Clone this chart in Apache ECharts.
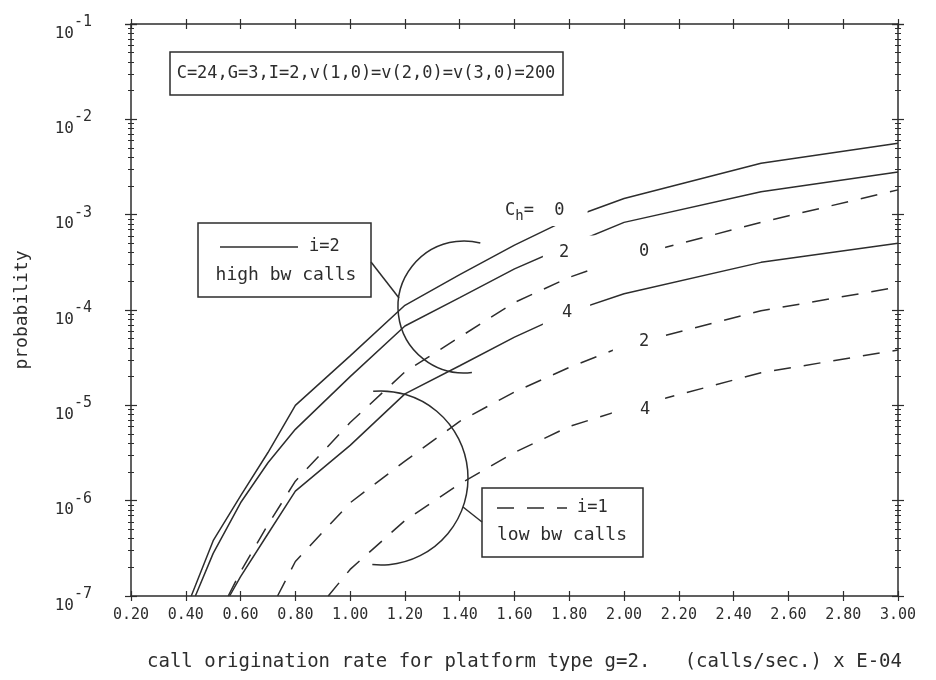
<!DOCTYPE html>
<html>
<head>
<meta charset="utf-8">
<script src="https://cdn.jsdelivr.net/npm/echarts@6/dist/echarts.min.js"></script>
<style>
html, body { margin: 0; background: #fff; }
#main { width: 936px; height: 680px; }
</style>
</head>
<body>
<div id="main"></div>
<script>
var ink = '#2d2d2d';
var mono = 'DejaVu Sans Mono';

// call origination rate (calls/sec x E-04) and blocking probability
// i=2 (high bw calls), solid
var xHigh0 = [0.42, 0.5, 0.6, 0.7, 0.8, 1.0, 1.2, 1.4, 1.6, 1.8, 2.0, 2.5, 3.0];
var pHigh0 = [1e-7, 3.8e-7, 1.12e-6, 3.2e-6, 1.0e-5, 3.3e-5, 1.12e-4, 2.35e-4, 4.8e-4, 9.1e-4, 1.48e-3, 3.47e-3, 5.6e-3];
var xHigh2 = [0.435, 0.5, 0.6, 0.7, 0.8, 1.0, 1.2, 1.4, 1.6, 1.8, 2.0, 2.5, 3.0];
var pHigh2 = [1e-7, 2.8e-7, 9.5e-7, 2.5e-6, 5.6e-6, 2.0e-5, 6.8e-5, 1.35e-4, 2.7e-4, 4.8e-4, 8.3e-4, 1.74e-3, 2.8e-3];
var xHigh4 = [0.56, 0.6, 0.7, 0.8, 1.0, 1.2, 1.4, 1.6, 1.8, 2.0, 2.5, 3.0];
var pHigh4 = [1e-7, 1.6e-7, 4.5e-7, 1.26e-6, 3.8e-6, 1.32e-5, 2.6e-5, 5.2e-5, 9.5e-5, 1.48e-4, 3.16e-4, 5.0e-4];
// i=1 (low bw calls), dashed
var xLow0 = [0.555, 0.6, 0.7, 0.8, 1.0, 1.2, 1.4, 1.6, 1.8, 2.0, 2.5, 3.0];
var pLow0 = [1e-7, 1.8e-7, 5.6e-7, 1.6e-6, 6.6e-6, 2.24e-5, 5.2e-5, 1.2e-4, 2.2e-4, 3.5e-4, 8.3e-4, 1.82e-3];
var xLow2 = [0.735, 0.8, 1.0, 1.2, 1.4, 1.6, 1.8, 2.0, 2.5, 3.0];
var pLow2 = [1e-7, 2.3e-7, 9.5e-7, 2.6e-6, 6.8e-6, 1.38e-5, 2.5e-5, 4.2e-5, 9.8e-5, 1.74e-4];
var xLow4 = [0.92, 1.0, 1.2, 1.4, 1.6, 1.8, 2.0, 2.5, 3.0];
var pLow4 = [1e-7, 1.9e-7, 6.2e-7, 1.5e-6, 3.2e-6, 6.0e-6, 9.1e-6, 2.2e-5, 3.8e-5];

function pairs(xs, ps) {
    return xs.map(function (x, i) { return [x, ps[i]]; });
}

function curve(xs, ps, dashed) {
    return {
        type: 'line',
        data: pairs(xs, ps),
        symbol: 'none',
        smooth: false,
        clip: true,
        silent: true,
        lineStyle: { color: ink, width: 1.5, type: dashed ? [17, 13] : 'solid' }
    };
}

function xAx(pos, inside, main) {
    return {
        type: 'value', min: 0.2, max: 3.0, interval: 0.2, position: pos,
        axisLine: { show: main, onZero: false, lineStyle: { color: ink, width: 1.5 } },
        axisTick: { show: true, inside: inside, length: 5, lineStyle: { color: ink, width: 1.2 } },
        axisLabel: main && pos === 'bottom' ? {
            show: true, margin: 12, color: ink, fontFamily: mono, fontSize: 15,
            formatter: function (v) { return v.toFixed(2); }
        } : { show: false },
        splitLine: { show: false },
        name: main && pos === 'bottom' ? 'call origination rate for platform type g=2.   (calls/sec.) x E-04' : '',
        nameLocation: 'middle', nameGap: 57,
        nameTextStyle: { color: ink, fontFamily: mono, fontSize: 19, padding: [0, 0, 0, 20] }
    };
}

function yAx(pos, inside, main) {
    return {
        type: 'log', logBase: 10, min: 1e-7, max: 1e-1, splitNumber: 6, position: pos,
        axisLine: { show: main, onZero: false, lineStyle: { color: ink, width: 1.5 } },
        axisTick: { show: true, inside: inside, length: 6, lineStyle: { color: ink, width: 1.2 } },
        minorTick: { show: true, splitNumber: 9, length: 3, lineStyle: { color: ink, width: 1 } },
        axisLabel: main && pos === 'left' ? {
            show: true, margin: 39, color: ink, fontFamily: mono, padding: [19, 0, 0, 0],
            formatter: function (v) {
                return '{b|10}{e|' + Math.round(Math.log10(v)) + '}';
            },
            rich: {
                b: { fontFamily: mono, fontSize: 16, lineHeight: 16, color: ink, verticalAlign: 'bottom' },
                e: { fontFamily: mono, fontSize: 15, lineHeight: 14, color: ink, verticalAlign: 'bottom', padding: [0, 0, 12, 0] }
            }
        } : { show: false },
        splitLine: { show: false },
        minorSplitLine: { show: false },
        name: main && pos === 'left' ? 'probability' : '',
        nameLocation: 'middle', nameGap: 100, nameRotate: 90,
        nameTextStyle: { color: ink, fontFamily: mono, fontSize: 18 }
    };
}

// curve label at (cx, cy); the white padding leaves the gap the plotter left in the line
function label(cx, cy, text, pad) {
    return {
        type: 'text', z: 60,
        x: cx - (pad[3] - pad[1]) / 2,
        y: cy,
        style: {
            text: text, fill: ink, font: '17px "' + mono + '"',
            align: 'center', verticalAlign: 'middle',
            backgroundColor: '#fff', padding: pad
        }
    };
}

var box = { stroke: ink, lineWidth: 1.5, fill: '#fff' };
var thin = { stroke: ink, lineWidth: 1.5, fill: null };

var option = {
    backgroundColor: '#fff',
    animation: false,
    grid: { left: 131, right: 38, top: 24, bottom: 84 },
    xAxis: [xAx('bottom', false, true), xAx('bottom', true, false), xAx('top', false, true), xAx('top', true, false)],
    yAxis: [yAx('left', false, true), yAx('left', true, false), yAx('right', false, true), yAx('right', true, false)],
    series: [
        curve(xHigh0, pHigh0, false),
        curve(xHigh2, pHigh2, false),
        curve(xHigh4, pHigh4, false),
        curve(xLow0, pLow0, true),
        curve(xLow2, pLow2, true),
        curve(xLow4, pLow4, true)
    ],
    graphic: [
        // parameter box
        { type: 'rect', z: 50, shape: { x: 170, y: 52, width: 393, height: 43 }, style: box },
        { type: 'text', z: 51, x: 366, y: 74, style: { text: 'C=24,G=3,I=2,v(1,0)=v(2,0)=v(3,0)=200', fill: ink, font: '17px "' + mono + '"', align: 'center', verticalAlign: 'middle' } },
        // high bw legend
        { type: 'rect', z: 50, shape: { x: 198, y: 223, width: 173, height: 74 }, style: box },
        { type: 'line', z: 51, shape: { x1: 220, y1: 247, x2: 298, y2: 247 }, style: thin },
        { type: 'text', z: 51, x: 309, y: 247, style: { text: 'i=2', fill: ink, font: '17px "' + mono + '"', align: 'left', verticalAlign: 'middle' } },
        { type: 'text', z: 51, x: 286, y: 275, style: { text: 'high bw calls', fill: ink, font: '18px "' + mono + '"', align: 'center', verticalAlign: 'middle' } },
        { type: 'line', z: 51, shape: { x1: 371, y1: 262, x2: 399, y2: 298 }, style: thin },
        { type: 'arc', z: 51, shape: { cx: 464, cy: 307, r: 66, startAngle: Math.PI / 2 - 0.12, endAngle: Math.PI * 1.5 + 0.25, clockwise: true }, style: thin },
        // low bw legend
        { type: 'rect', z: 50, shape: { x: 482, y: 488, width: 161, height: 69 }, style: box },
        { type: 'line', z: 51, shape: { x1: 497, y1: 508, x2: 567, y2: 508 }, style: { stroke: ink, lineWidth: 1.5, lineDash: [17, 13] } },
        { type: 'text', z: 51, x: 577, y: 508, style: { text: 'i=1', fill: ink, font: '17px "' + mono + '"', align: 'left', verticalAlign: 'middle' } },
        { type: 'text', z: 51, x: 562, y: 535, style: { text: 'low bw calls', fill: ink, font: '18px "' + mono + '"', align: 'center', verticalAlign: 'middle' } },
        { type: 'line', z: 51, shape: { x1: 463, y1: 507, x2: 482, y2: 522 }, style: thin },
        { type: 'arc', z: 51, shape: { cx: 381, cy: 478, r: 87, startAngle: -Math.PI / 2 - 0.09, endAngle: Math.PI / 2 + 0.1, clockwise: true }, style: thin },
        // curve labels
        {
            type: 'text', z: 60, x: 503, y: 214,
            style: {
                text: '{c|C}{s|h}{c|=  0}', fill: ink, align: 'left', verticalAlign: 'middle',
                backgroundColor: '#fff', padding: [1, 23, 3, 2],
                rich: {
                    c: { fontFamily: mono, fontSize: 17, lineHeight: 20, fill: ink, verticalAlign: 'bottom', padding: [0, 0, 4, 0] },
                    s: { fontFamily: mono, fontSize: 14, lineHeight: 16, fill: ink, verticalAlign: 'bottom' }
                }
            }
        },
        label(564, 253, '2', [10, 22, 2, 16]),
        label(567, 313, '4', [6, 18, 6, 19]),
        label(644, 252, '0', [1, 16, 15, 57]),
        label(644, 342, '2', [4, 11, 4, 26]),
        label(645, 410, '4', [6, 15, 4, 28])
    ]
};

var chart = echarts.init(document.getElementById('main'));
chart.setOption(option);
</script>
</body>
</html>
